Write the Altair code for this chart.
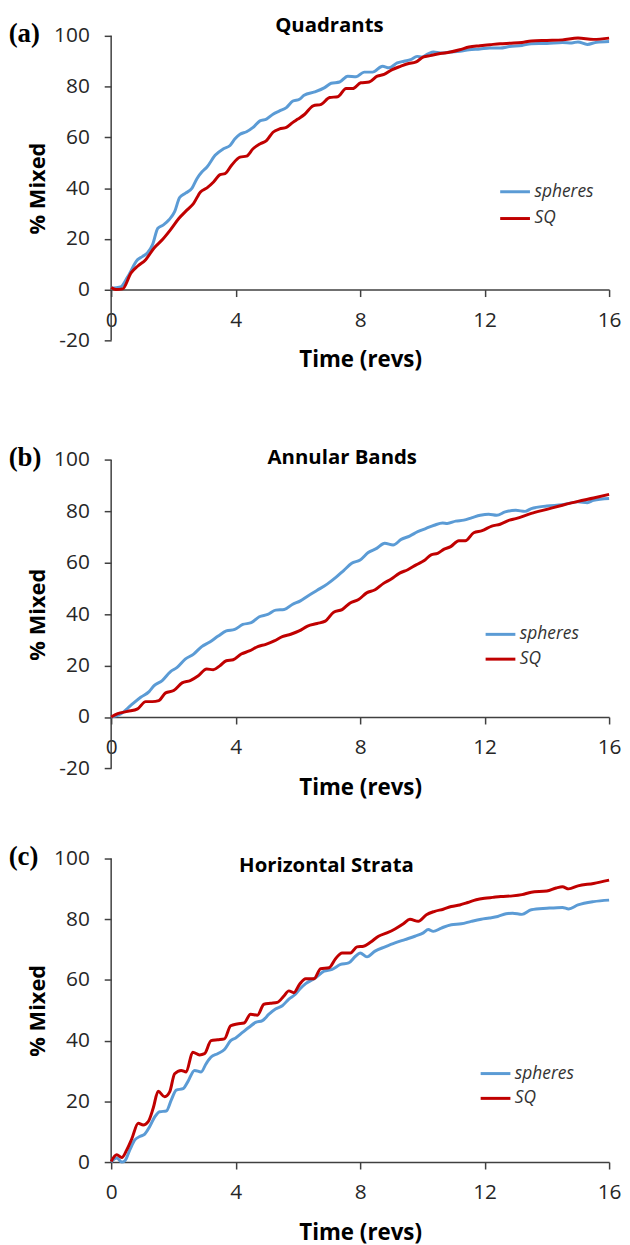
import altair as alt
import pandas as pd

# ---------------- data ----------------
# (a) Quadrants
qa_sph_t = [0, 0.3, 0.53, 0.85, 1.0, 1.17, 1.33, 1.5, 1.68, 1.86, 2.04, 2.2, 2.39, 2.6, 2.76, 2.92, 3.08, 3.34,
            3.61, 3.82, 3.98, 4.14, 4.35, 4.56, 4.78, 4.99, 5.2, 5.41, 5.63, 5.84, 6.05, 6.2, 6.54, 6.86, 7.07,
            7.34, 7.6, 7.87, 8.13, 8.4, 8.72, 8.93, 9.19, 9.41, 9.62, 9.83, 9.99, 10.2, 10.36, 10.58, 10.9,
            11.2, 11.5, 11.85, 12.17, 12.5, 12.8, 13.2, 13.5, 14.0, 14.5, 14.8, 15.0, 15.3, 15.6, 16.0]
qa_sph_v = [0.5, 1, 5, 11.8, 13, 14.5, 17.7, 24.2, 25.5, 27.5, 30.7, 36.3, 38, 40, 43.8, 46.4, 48.3, 52.9,
            55.5, 56.8, 59.4, 61.2, 62.2, 63.9, 66.5, 67.2, 69.1, 70.4, 71.7, 74.3, 75.0, 76.6, 77.9, 79.6, 81.3,
            81.8, 84.1, 83.9, 85.7, 85.7, 88, 87.4, 89.3, 90, 90.6, 91.9, 91.7, 93, 93.6, 93.2, 93.6,
            93.9, 94.5, 94.8, 95.2, 95.2, 95.8, 96.2, 96.9, 97.0, 97.4, 97.2, 97.6, 96.6, 97.5, 97.8]
qa_sq_t = [0, 0.15, 0.37, 0.64, 0.85, 1.11, 1.38, 1.65, 1.91, 2.18, 2.44, 2.65, 2.87, 3.08, 3.29, 3.5, 3.66,
           3.87, 4.14, 4.35, 4.56, 4.78, 4.99, 5.2, 5.41, 5.63, 5.84, 6.0, 6.22, 6.49, 6.75, 7.02, 7.28, 7.55,
           7.76, 8.02, 8.29, 8.55, 8.77, 9.03, 9.3, 9.56, 9.78, 10.04, 10.25, 10.57, 10.9, 11.2, 11.5, 11.85,
           12.17, 12.5, 12.85, 13.2, 13.5, 14.0, 14.5, 15.0, 15.5, 16.0]
qa_sq_v = [0.8, 0, 0.3, 6.6, 9.2, 11.8, 16.4, 19.7, 23.6, 28.1, 31.4, 34, 38.5, 40.1, 42.4, 45.3, 45.7,
           49, 52.2, 52.6, 55.5, 57.4, 58.7, 62, 63.3, 63.9, 65.9, 67.2, 69.1, 72.4, 73, 75.7, 76, 79.2,
           79.2, 81.5, 81.8, 84.1, 84.8, 86.7, 88, 89.1, 89.6, 91.7, 92.2, 93, 93.6, 94.5, 95.6, 96.1,
           96.5, 96.9, 97.1, 97.4, 98.0, 98.2, 98.4, 99.1, 98.6, 99.1]

# (b) Annular Bands
qb_sph_t = [0, 0.32, 0.63, 0.95, 1.22, 1.38, 1.64, 1.9, 2.12, 2.38, 2.65, 2.91, 3.17, 3.44, 3.7, 3.97, 4.23,
            4.5, 4.76, 5.03, 5.29, 5.56, 5.82, 6.08, 6.31, 6.62, 6.94, 7.21, 7.47, 7.73, 8.0, 8.26, 8.53, 8.79,
            9.06, 9.32, 9.59, 9.85, 10.12, 10.38, 10.65, 10.8, 11.07, 11.33, 11.6, 11.86, 12.13, 12.39, 12.66,
            13.0, 13.3, 13.5, 14.0, 14.5, 15.0, 15.3, 15.5, 16.0]
qb_sph_v = [0, 1.3, 4.5, 7.7, 9.9, 12.2, 14.2, 17.6, 19.3, 22.5, 24.5, 27.4, 29.2, 31.5, 33.5, 34.1, 36,
            36.7, 39, 39.9, 41.6, 41.8, 43.8, 45.2, 47, 49.3, 51.7, 54.2, 57, 59.8, 61.1, 64, 65.6, 67.6,
            66.9, 69.1, 70.4, 72.1, 73.4, 74.6, 75.5, 75.3, 76.2, 76.6, 77.6, 78.5, 78.9, 78.5, 79.8,
            80.4, 80.0, 81.1, 82.1, 82.6, 83.7, 83.4, 84.3, 85.0]
qb_sq_t = [0, 0.21, 0.53, 0.85, 1.11, 1.32, 1.53, 1.75, 2.01, 2.28, 2.54, 2.8, 3.07, 3.28, 3.49, 3.7, 3.92,
           4.18, 4.44, 4.71, 4.97, 5.24, 5.5, 5.77, 6.04, 6.31, 6.62, 6.88, 7.15, 7.42, 7.68, 7.95, 8.21, 8.48,
           8.74, 9.0, 9.27, 9.53, 9.8, 10.06, 10.28, 10.49, 10.7, 10.91, 11.17, 11.38, 11.65, 11.92, 12.23,
           12.5, 12.8, 13.0, 13.5, 14.0, 14.5, 15.0, 15.5, 16.0]
qb_sq_v = [0, 1.3, 2.2, 3.2, 6, 6, 6.4, 9.4, 10.3, 13.3, 14.2, 16.1, 18.7, 18.4, 19.9, 21.9, 22.3,
           24.5, 25.7, 27.4, 28.3, 29.6, 31.3, 32.2, 33.5, 35.4, 36.4, 37.3, 40.8, 41.8, 44.4, 45.7, 48.3, 49.5,
           51.9, 53.7, 56, 57.3, 59.2, 60.9, 63.1, 63.7, 65.3, 66.3, 68.6, 68.6, 71.7, 72.5, 74.3,
           75, 76.6, 77.2, 79.2, 80.8, 82.4, 83.9, 85.2, 86.6]

# (c) Horizontal Strata
qc_sph_t = [0, 0.18, 0.34, 0.44, 0.6, 0.76, 0.92, 1.08, 1.24, 1.4, 1.56, 1.77, 1.93, 2.09, 2.31, 2.46, 2.68,
            2.89, 3.05, 3.21, 3.42, 3.64, 3.84, 4.0, 4.22, 4.43, 4.64, 4.86, 5.07, 5.28, 5.5, 5.71, 5.92, 6.08,
            6.25, 6.57, 6.84, 7.1, 7.37, 7.63, 7.85, 8.0, 8.22, 8.48, 8.8, 9.12, 9.44, 9.76, 10.03, 10.19,
            10.35, 10.61, 10.93, 11.25, 11.57, 11.89, 12.15, 12.42, 12.69, 12.9, 13.2, 13.5, 14.0, 14.5, 14.7,
            15.0, 15.5, 16.0]
qc_sph_v = [0, 1.3, 0, 0.4, 4, 7.3, 8.4, 9.2, 11.7, 14.9, 16.6, 16.8, 20.4, 23.7, 24.2, 26.4, 30.2,
            29.7, 32.4, 34.6, 35.7, 37.1, 40, 40.9, 42.7, 44.4, 46, 46.6, 48.7, 50.4, 51.5, 53.7, 55.3, 57.2,
            58.8, 60.7, 62.9, 63.5, 65.1, 65.6, 67.8, 68.9, 67.6, 69.5, 70.9, 72.2, 73.3, 74.4, 75.5, 76.6,
            76, 77.1, 78.2, 78.5, 79.3, 80, 80.4, 80.9, 81.8, 82, 81.6, 83.1, 83.6, 83.9, 83.4,
            84.7, 85.8, 86.3]
qc_sq_t = [0, 0.18, 0.34, 0.5, 0.66, 0.87, 1.03, 1.19, 1.35, 1.51, 1.72, 1.88, 2.04, 2.25, 2.41, 2.62, 2.84,
           3.0, 3.21, 3.42, 3.64, 3.84, 4.05, 4.27, 4.48, 4.7, 4.91, 5.12, 5.34, 5.55, 5.71, 5.87, 6.05, 6.25,
           6.52, 6.73, 7.0, 7.21, 7.42, 7.69, 7.9, 8.11, 8.33, 8.59, 8.86, 9.12, 9.39, 9.6, 9.87, 10.13,
           10.4, 10.67, 10.93, 11.2, 11.46, 11.73, 12.0, 12.26, 12.52, 12.9, 13.2, 13.5, 14.0, 14.3, 14.5,
           14.7, 15.0, 15.5, 16.0]
qc_sq_v = [0.2, 2.4, 1.5, 4, 7.6, 12.8, 12.2, 13.3, 17.7, 23.3, 21.5, 23.1, 29.1, 30.2, 29.7, 36.2, 35.3,
           35.7, 40, 40.3, 40.6, 44.9, 45.5, 45.8, 48.7, 48.4, 52, 52.3, 52.6, 54.7, 56.4, 55.8, 58.5, 60.4,
           60.4, 63.7, 64, 67, 68.9, 68.9, 70.9, 71.1, 72.4, 74.4, 75.5, 76.8, 78.5, 80, 79.3, 81.5,
           82.6, 83.3, 84.2, 84.7, 85.5, 86.4, 86.9, 87.2, 87.5, 87.7, 88.1, 88.9, 89.3, 90.3, 90.7,
           90.0, 91.0, 91.8, 92.9]

series_names = ["spheres", "SQ"]
series_colors = ["#5B9BD5", "#C00000"]
x_ticks = [0, 4, 8, 12, 16]
y_ticks_ab = [-20, 0, 20, 40, 60, 80, 100]
y_ticks_c = [0, 20, 40, 60, 80, 100]

FONT = "Open Sans"
AXC = "#404040"
W = 502


def frame(t, v, name):
    return pd.DataFrame({"t": t, "v": v, "s": name})


def panel(sph_t, sph_v, sq_t, sq_v, tag, title, ymin, yticks, h, extra_top,
          title_x, title_y, tag_y, leg_x, leg_y, row_pad):
    # h: height of the ymin..100 axis span; extra_top: blank space above the 100 line
    ppu = h / (100 - ymin)
    ymax = 100 + extra_top / ppu
    H = h + extra_top
    xoff = -(0 - ymin) * ppu
    color = alt.Color(
        "s:N",
        scale=alt.Scale(domain=series_names, range=series_colors),
        legend=alt.Legend(
            title=None, orient="none", legendX=leg_x, legendY=leg_y + extra_top,
            symbolType="stroke", symbolSize=900, symbolStrokeWidth=3,
            labelFont=FONT, labelFontStyle="italic", labelFontSize=17.5,
            labelColor="#333333", labelOffset=3, rowPadding=row_pad, padding=0,
        ),
    )
    x = alt.X(
        "t:Q", scale=alt.Scale(domain=[0, 16], nice=False),
        axis=alt.Axis(
            values=x_ticks, title="Time (revs)", offset=xoff, grid=False, labelFlush=False,
            domainColor=AXC, domainWidth=1.5, tickColor=AXC, tickWidth=1.5, tickSize=7,
            labelFont=FONT, labelFontSize=21, labelColor="#262626", labelPadding=13,
            titleFont=FONT, titleFontSize=22.5, titleFontWeight="bold", titleColor="black",
            titleX=W / 2, titleY=78, titleBaseline="alphabetic", titleAlign="center",
        ),
    )
    y = alt.Y(
        "v:Q", scale=alt.Scale(domain=[ymin, ymax], nice=False, zero=False),
        axis=alt.Axis(
            values=yticks, title="% Mixed", grid=False, domain=False,
            labelExpr="'' + datum.value",
            tickColor=AXC, tickWidth=1.5, tickSize=7,
            labelFont=FONT, labelFontSize=21, labelColor="#262626", labelPadding=15,
            titleFont=FONT, titleFontSize=22, titleFontWeight="bold", titleColor="black",
            titleX=-74, titleY=extra_top + h / 2, titleBaseline="middle", titleAlign="center",
            titleAngle=270,
        ),
    )
    yaxis_line = alt.Chart(pd.DataFrame({"x0": [0], "lo": [ymin], "hi": [100]})).mark_rule(
        color=AXC, strokeWidth=1.5
    ).encode(x=alt.X("x0:Q"), y=alt.Y("lo:Q"), y2="hi:Q")
    blue = alt.Chart(frame(sph_t, sph_v, "spheres")).mark_line(
        strokeWidth=3, interpolate="monotone").encode(x=x, y=y, color=color)
    red = alt.Chart(frame(sq_t, sq_v, "SQ")).mark_line(
        strokeWidth=3, interpolate="monotone").encode(x=x, y=y, color=color)
    ttl = alt.Chart(pd.DataFrame({"txt": [title]})).mark_text(
        font=FONT, fontSize=20.5, fontWeight="bold", color="black", align="center", baseline="alphabetic"
    ).encode(x=alt.value(title_x), y=alt.value(title_y + extra_top), text="txt:N")
    lab = alt.Chart(pd.DataFrame({"txt": [tag]})).mark_text(
        font="Liberation Serif", fontSize=27, fontWeight="bold", color="black", align="left",
        baseline="alphabetic"
    ).encode(x=alt.value(-103.3), y=alt.value(tag_y + extra_top), text="txt:N")
    return alt.layer(yaxis_line, blue, red, ttl, lab).properties(width=W, height=H)


GAP = 90.2
pa = panel(qa_sph_t, qa_sph_v, qa_sq_t, qa_sq_v, "(a)", "Quadrants", -20, y_ticks_ab, 307, 0,
           220, -4.3, 6, 390.7, 140.7, 2)
pb = panel(qb_sph_t, qb_sph_v, qb_sq_t, qb_sq_v, "(b)", "Annular Bands", -20, y_ticks_ab, 311, 120.6 - GAP,
           233, 4, 6, 376, 159.3, 0)
pc = panel(qc_sph_t, qc_sph_v, qc_sq_t, qc_sq_v, "(c)", "Horizontal Strata", 0, y_ticks_c, 306, 0,
           217, 13.3, 6.5, 371, 200.3, 0)

chart = alt.vconcat(pa, pb, pc, spacing=GAP, bounds="flush").resolve_scale(
    color="independent"
).resolve_legend(color="independent").properties(
    padding={"left": 0, "top": 2, "right": 0, "bottom": 0}
).configure_view(strokeWidth=0)

chart.save("out.html", embed_options={"renderer": "svg", "actions": False})
